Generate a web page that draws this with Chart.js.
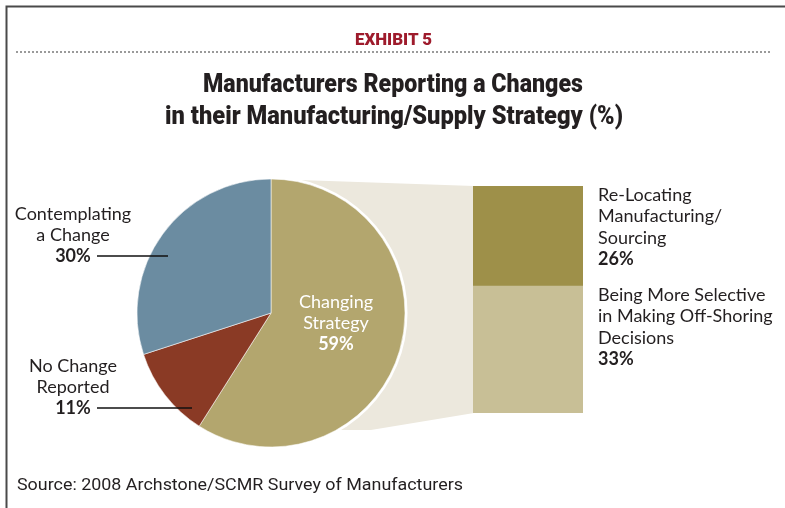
<!DOCTYPE html>
<html>
<head>
<meta charset="utf-8">
<script src="https://cdn.jsdelivr.net/npm/chart.js@4/dist/chart.umd.min.js"></script>
<style>
  html, body { margin: 0; padding: 0; background: #fff; }
  #page { position: relative; width: 785px; height: 508px; overflow: hidden; }
  #bar-box { position: absolute; left: 260px; top: 170px; }
  #pie-box { position: absolute; left: 127px; top: 169px; }
  #overlay { position: absolute; left: 0; top: 0; }
</style>
</head>
<body>
<div id="page">
  <div id="bar-box"><canvas id="bar-chart" width="340" height="260"></canvas></div>
  <div id="pie-box"><canvas id="pie-chart" width="288" height="288"></canvas></div>
  <svg id="overlay" width="785" height="508" xmlns="http://www.w3.org/2000/svg"></svg>
</div>
<script>
// Chart data
const exhibitLabel = 'EXHIBIT 5';
const titleLines = ['Manufacturers Reporting a Changes', 'in their Manufacturing/Supply Strategy (%)'];
const sourceText = 'Source: 2008 Archstone/SCMR Survey of Manufacturers';

const pieCategories = [['Changing', 'Strategy'], ['No Change', 'Reported'], ['Contemplating', 'a Change']];
const pieValues = [59, 11, 30];
const pieColors = ['#b3a66e', '#8a3a25', '#6b8ca1'];

// breakdown of "Changing Strategy" (bottom segment first)
const barCategories = [['Being More Selective', 'in Making Off-Shoring', 'Decisions'], ['Re-Locating', 'Manufacturing/', 'Sourcing']];
const barValues = [33, 26];
const barColors = ['#c8bf96', '#9e9049'];

const textColor = '#231f20';
const connectorColor = '#ece8dd';

// Pie chart
const pieChart = new Chart(document.getElementById('pie-chart'), {
  type: 'pie',
  data: {
    labels: pieCategories.map(l => l.join(' ')),
    datasets: [{
      data: pieValues,
      backgroundColor: pieColors,
      borderColor: 'rgba(255,255,255,0.55)',
      borderWidth: 1,
      hoverOffset: 0,
    }],
  },
  options: {
    responsive: false,
    animation: false,
    radius: 134,
    plugins: { legend: { display: false }, tooltip: { enabled: false } },
  },
  plugins: [{
    id: 'whiteRing',
    beforeDatasetsDraw(chart) {
      const arc = chart.getDatasetMeta(0).data[0];
      const ctx = chart.ctx;
      ctx.save();
      ctx.fillStyle = '#ffffff';
      ctx.beginPath();
      ctx.arc(arc.x, arc.y, arc.outerRadius + 2.5, 0, Math.PI * 2);
      ctx.fill();
      ctx.restore();
    },
  }],
});

// Stacked bar with connector back to the pie
const barBox = document.getElementById('bar-box');
const pieBox = document.getElementById('pie-box');

const barChart = new Chart(document.getElementById('bar-chart'), {
  type: 'bar',
  data: {
    labels: ['Changing Strategy'],
    datasets: barValues.map((v, i) => ({
      label: barCategories[i].join(' '),
      data: [v],
      backgroundColor: barColors[i],
      borderWidth: 0,
      barPercentage: 1,
      categoryPercentage: 1,
    })),
  },
  options: {
    responsive: false,
    animation: false,
    layout: { padding: { left: 213, right: 17, top: 16, bottom: 17 } },
    scales: {
      x: { display: false, stacked: true },
      y: { display: false, stacked: true, min: 0, max: barValues.reduce((a, b) => a + b, 0) },
    },
    plugins: { legend: { display: false }, tooltip: { enabled: false } },
  },
  plugins: [{
    id: 'connector',
    beforeDatasetsDraw(chart) {
      const arc = pieChart.getDatasetMeta(0).data[0];
      const dx = pieBox.offsetLeft - barBox.offsetLeft;
      const dy = pieBox.offsetTop - barBox.offsetTop;
      const cx = arc.x + dx;
      const cy = arc.y + dy;
      const r = arc.outerRadius;
      const bottomBar = chart.getDatasetMeta(0).data[0];
      const topBar = chart.getDatasetMeta(chart.data.datasets.length - 1).data[0];
      const left = bottomBar.x - bottomBar.width / 2;
      const a = 70 * Math.PI / 180;
      const ctx = chart.ctx;
      ctx.save();
      ctx.fillStyle = connectorColor;
      ctx.beginPath();
      ctx.moveTo(cx, cy - r);
      ctx.lineTo(left + 1, topBar.y);
      ctx.lineTo(left + 1, bottomBar.base);
      ctx.lineTo(cx + r * Math.cos(a), cy + r * Math.sin(a));
      ctx.lineTo(cx, cy);
      ctx.closePath();
      ctx.fill();
      ctx.restore();
    },
  }],
});

// Text and rules
const svg = document.getElementById('overlay');
const NS = 'http://www.w3.org/2000/svg';

function addText(str, x, y, opts) {
  const t = document.createElementNS(NS, 'text');
  t.setAttribute('x', x);
  t.setAttribute('y', y);
  t.setAttribute('fill', opts.color || textColor);
  t.setAttribute('font-family', opts.font || 'Lato, sans-serif');
  t.setAttribute('font-size', opts.size || 17);
  t.setAttribute('font-weight', opts.weight || 'normal');
  t.setAttribute('text-anchor', opts.anchor || 'start');
  if (opts.width) {
    t.setAttribute('textLength', opts.width);
    t.setAttribute('lengthAdjust', 'spacingAndGlyphs');
  }
  t.textContent = str;
  svg.appendChild(t);
}

function addLine(x1, y1, x2, y2, attrs) {
  const l = document.createElementNS(NS, 'line');
  Object.entries(Object.assign({ x1, y1, x2, y2 }, attrs)).forEach(([k, v]) => l.setAttribute(k, v));
  svg.appendChild(l);
}

// frame
const frame = document.createElementNS(NS, 'path');
frame.setAttribute('d', 'M6.5,508 L6.5,6.5 L785,6.5');
frame.setAttribute('fill', 'none');
frame.setAttribute('stroke', '#4a4a4a');
frame.setAttribute('stroke-width', 2);
svg.appendChild(frame);

addText(exhibitLabel, 355, 44.5, { font: 'Roboto, sans-serif', size: 17, weight: 900, color: '#9e1b2c', width: 77 });
addLine(16, 52, 771, 52, { stroke: '#9a9a9a', 'stroke-width': 2, 'stroke-dasharray': '2 2' });

addText(titleLines[0], 203, 92, { font: 'Roboto, sans-serif', size: 25, weight: 900, width: 380 });
addText(titleLines[1], 165, 124, { font: 'Roboto, sans-serif', size: 25, weight: 900, width: 458 });

addText(sourceText, 17, 490, { font: 'Roboto, sans-serif', size: 17, width: 446 });

// pie labels: inside for the big slice, outside with leaders for the others
const pieLabelSpots = [
  { x: 336, y: 308, color: '#ffffff' },
  { x: 73, y: 372 },
  { x: 73, y: 220 },
];
const pieLeaders = [null, { y: 408, x1: 97, x2: 192 }, { y: 256, x1: 97, x2: 168 }];

pieCategories.forEach((lines, i) => {
  const spot = pieLabelSpots[i];
  const opts = { anchor: 'middle', size: 18, color: spot.color };
  lines.forEach((s, j) => addText(s, spot.x, spot.y + j * 21, opts));
  addText(pieValues[i] + '%', spot.x, spot.y + lines.length * 21, Object.assign({}, opts, { weight: 'bold' }));
  const lead = pieLeaders[i];
  if (lead) addLine(lead.x1, lead.y, lead.x2, lead.y, { stroke: '#111', 'stroke-width': 1.3 });
});

// bar labels to the right of the bar
const barLabelTops = [301, 201];
barCategories.forEach((lines, i) => {
  const y0 = barLabelTops[i];
  lines.forEach((s, j) => addText(s, 598, y0 + j * 21.3, { size: 18 }));
  addText(barValues[i] + '%', 598, y0 + lines.length * 21.3, { size: 18, weight: 'bold' });
});
</script>
</body>
</html>
